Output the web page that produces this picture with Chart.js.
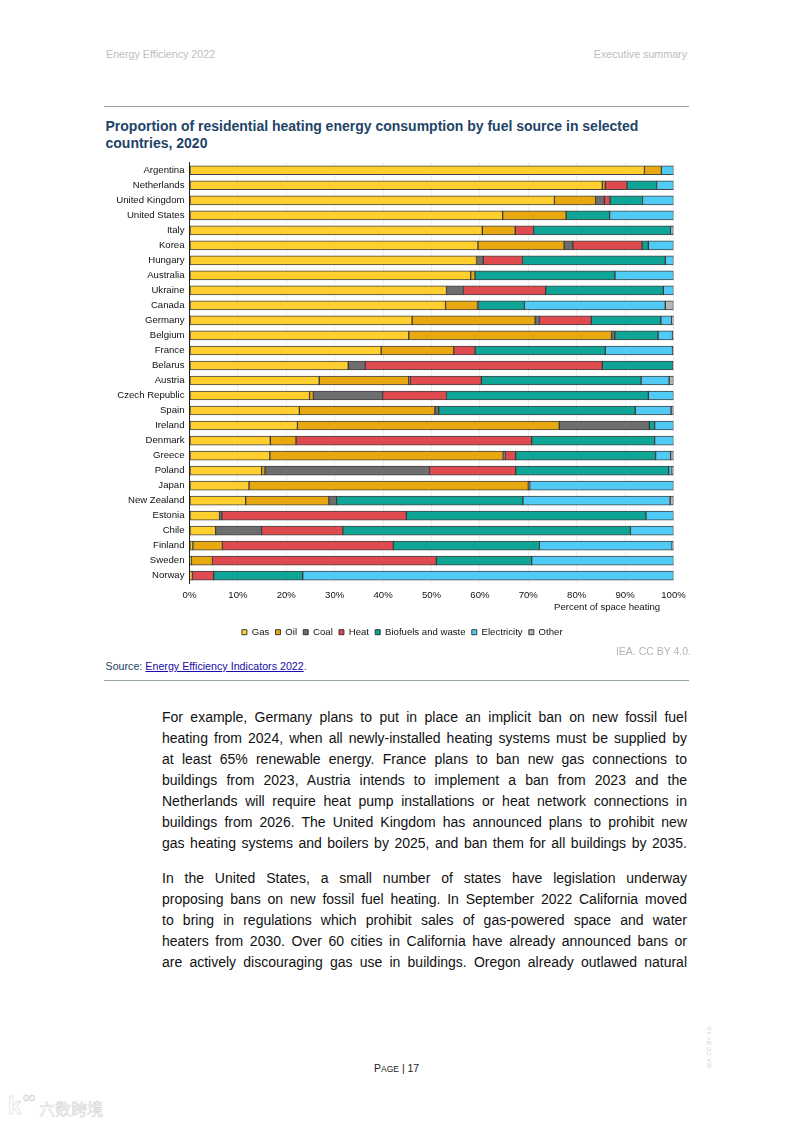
<!DOCTYPE html>
<html>
<head>
<meta charset="utf-8">
<script src="https://cdn.jsdelivr.net/npm/chart.js@4"></script>
<style>
    html, body { margin: 0; padding: 0; background: #fff; }
    body { width: 793px; height: 1122px; position: relative; overflow: hidden; font-family: "Liberation Sans", Arial, sans-serif; }
    .abs { position: absolute; white-space: nowrap; }
    .head { color: #bdbdbd; font-size: 10.7px; top: 48px; }
    .rule { position: absolute; left: 104px; width: 585px; height: 1px; background: #97a3aa; }
    .title { left: 105.5px; color: #1f4468; font-size: 14px; font-weight: bold; }
    .body-line { position: absolute; left: 162px; width: 525px; font-size: 14px; color: #111; text-align: justify; text-align-last: justify; white-space: nowrap; }
    .mark { color: #fff; -webkit-text-stroke: 0.5px #cfcfcf; }
    #chart-box { position: absolute; left: 100px; top: 151.5px; width: 600px; height: 496px; }
</style>
</head>
<body>
<div class="abs head" style="left:106px">Energy Efficiency 2022</div>
<div class="abs head" style="right:106px">Executive summary</div>
<div class="rule" style="top:106px"></div>
<div class="abs title" style="top:118px">Proportion of residential heating energy consumption by fuel source in selected</div>
<div class="abs title" style="top:135px">countries, 2020</div>

<div id="chart-box"><canvas id="heatingChart" width="600" height="496"></canvas></div>

<div class="abs" style="left:554px;top:601px;font-size:9.6px;color:#111">Percent of space heating</div>
<div class="abs" style="right:102px;top:645px;font-size:10.5px;color:#b5b5b5">IEA. CC BY 4.0.</div>
<div class="abs" style="left:105.5px;top:660px;font-size:10.7px;color:#1f4468">Source: <a href="#" style="color:#1a0dab">Energy Efficiency Indicators 2022</a>.</div>
<div class="rule" style="top:680px"></div>

<div id="text"></div>

<div class="abs" style="left:374px;top:1062px;font-size:10.5px;color:#222">P<span style="font-size:8.5px">AGE</span> | 17</div>
<div class="abs" style="left:706px;top:1068px;font-size:6px;color:#d0d0d0;transform:rotate(-90deg);transform-origin:left top">IEA. CC BY 4.0.</div>
<div class="abs mark" style="left:8px;top:1092px;font-size:24px;font-weight:bold">k</div>
<div class="abs mark" style="left:23px;top:1091px;font-size:11px">oo</div>
<div class="abs mark" style="left:39px;top:1096px;font-size:16px;font-family:'Noto Sans CJK SC'">六数跨境</div>

<script>
// Chart data
const countries = ['Argentina', 'Netherlands', 'United Kingdom', 'United States', 'Italy', 'Korea', 'Hungary', 'Australia', 'Ukraine', 'Canada', 'Germany', 'Belgium', 'France', 'Belarus', 'Austria', 'Czech Republic', 'Spain', 'Ireland', 'Denmark', 'Greece', 'Poland', 'Japan', 'New Zealand', 'Estonia', 'Chile', 'Finland', 'Sweden', 'Norway'];
const gas = [94, 85.3, 75.4, 64.7, 60.5, 59.6, 59.3, 58.1, 53.1, 52.9, 46, 45.3, 39.6, 32.8, 26.8, 24.8, 22.7, 22.3, 16.7, 16.6, 14.9, 12.3, 11.6, 6.2, 5.4, 0.7, 0.4, 0.3];
const oil = [3.5, 0.6, 8.5, 13.1, 6.8, 17.8, 0.2, 0.9, 0, 6.6, 25.4, 41.9, 15, 0, 18.5, 0.8, 28, 54.1, 5.3, 48.2, 0.7, 57.7, 17.2, 0, 0, 6.1, 4.35, 0.3];
const coal = [0, 0, 1.8, 0, 0, 1.8, 1.2, 0, 3.5, 0.2, 0.9, 0.7, 0, 3.5, 0.3, 14.3, 0.8, 18.6, 0, 0.4, 34, 0.3, 1.6, 0.5, 9.5, 0, 0, 0];
const heat = [0, 4.5, 1.2, 0, 3.8, 14.3, 8.1, 0, 17, 0, 10.7, 0, 4.4, 49, 14.7, 13.2, 0, 0, 48.7, 2.2, 17.8, 0, 0, 38.1, 16.8, 35.3, 46.25, 4.4];
const biofuels = [0, 6.1, 6.7, 9, 28.3, 1.3, 29.5, 28.9, 24.3, 9.5, 14.4, 8.9, 26.9, 14.5, 33, 41.7, 40.6, 1.1, 25.4, 28.9, 31.6, 0, 38.5, 49.5, 59.4, 30.2, 19.7, 18.4];
const electricity = [2.5, 3.5, 6.4, 13.2, 0.3, 5.2, 1.7, 12.1, 2.1, 29.1, 2.2, 3, 13.9, 0.1, 5.8, 5.2, 7.4, 3.9, 3.9, 3.1, 0.7, 29.7, 30.4, 5.7, 8.9, 27.4, 29.3, 76.6];
const other = [0, 0, 0, 0, 0.3, 0, 0, 0, 0, 1.7, 0.4, 0.2, 0.2, 0.1, 0.9, 0, 0.5, 0, 0, 0.6, 0.3, 0, 0.7, 0, 0, 0.3, 0, 0];
const xTicks = ['0%', '10%', '20%', '30%', '40%', '50%', '60%', '70%', '80%', '90%', '100%'];

const bodyLines = [
    [717, 'For example, Germany plans to put in place an implicit ban on new fossil fuel'],
    [738, 'heating from 2024, when all newly-installed heating systems must be supplied by'],
    [759, 'at least 65% renewable energy. France plans to ban new gas connections to'],
    [780, 'buildings from 2023, Austria intends to implement a ban from 2023 and the'],
    [801, 'Netherlands will require heat pump installations or heat network connections in'],
    [822, 'buildings from 2026. The United Kingdom has announced plans to prohibit new'],
    [843, 'gas heating systems and boilers by 2025, and ban them for all buildings by 2035.'],
    [878, 'In the United States, a small number of states have legislation underway'],
    [899, 'proposing bans on new fossil fuel heating. In September 2022 California moved'],
    [920, 'to bring in regulations which prohibit sales of gas-powered space and water'],
    [941, 'heaters from 2030. Over 60 cities in California have already announced bans or'],
    [962, 'are actively discouraging gas use in buildings. Oregon already outlawed natural']
];

// Body text
const textBox = document.getElementById('text');
bodyLines.forEach(line => {
    const el = document.createElement('div');
    el.className = 'body-line';
    el.style.top = (line[0] - 8) + 'px';
    el.textContent = line[1];
    textBox.appendChild(el);
});

function series(label, data, color) {
    return {
        label: label,
        data: data,
        backgroundColor: color,
        borderColor: 'rgba(35, 35, 35, 0.85)',
        borderWidth: 1,
        borderSkipped: false,
        barThickness: 9
    };
}

// Legend sits under the whole figure, not under the plot area
const shiftLegend = {
    id: 'shiftLegend',
    afterLayout(chart) {
        chart.legend.left += 15.5;
        chart.legend.right += 15.5;
    }
};

Chart.defaults.font.family = "'Liberation Sans', Arial, sans-serif";
Chart.defaults.color = '#111';
Chart.defaults.animation = false;

new Chart(document.getElementById('heatingChart'), {
    type: 'bar',
    data: {
        labels: countries,
        datasets: [
            series('Gas', gas, '#FFCF30'),
            series('Oil', oil, '#E8A80F'),
            series('Coal', coal, '#6E6E6E'),
            series('Heat', heat, '#DF4A4F'),
            series('Biofuels and waste', biofuels, '#0FA596'),
            series('Electricity', electricity, '#4FCBF5'),
            series('Other', other, '#B5B5B5')
        ]
    },
    plugins: [shiftLegend],
    options: {
        indexAxis: 'y',
        responsive: false,
        layout: { padding: { top: 3.5, right: 26.5, bottom: 1, left: 0 } },
        plugins: {
            tooltip: { enabled: false },
            legend: {
                position: 'bottom',
                labels: {
                    boxWidth: 5,
                    boxHeight: 5,
                    padding: 6.2,
                    font: { size: 9.6 }
                }
            }
        },
        scales: {
            x: {
                stacked: true,
                min: 0,
                max: 100,
                afterFit: scale => { scale.height = 38; },
                border: { display: false },
                grid: { color: '#efefef', drawTicks: false },
                ticks: {
                    stepSize: 10,
                    maxRotation: 0,
                    font: { size: 9.6 },
                    padding: 6.5,
                    callback: (value, index) => xTicks[index]
                }
            },
            y: {
                stacked: true,
                afterFit: scale => { scale.width = 89.5; },
                border: { display: true, color: '#222', width: 1 },
                grid: { display: false, drawTicks: false },
                ticks: {
                    autoSkip: false,
                    font: { size: 9.6 },
                    padding: 5
                }
            }
        }
    }
});
</script>
</body>
</html>
